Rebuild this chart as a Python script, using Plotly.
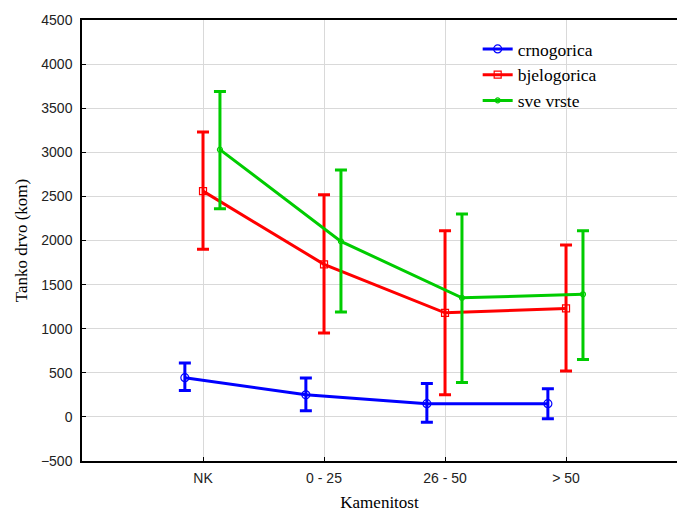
import plotly.graph_objects as go

categories = ["NK", "0 - 25", "26 - 50", "> 50"]

crno_mean = [445, 250, 150, 150]
crno_low = [300, 70, -60, -20]
crno_high = [610, 440, 380, 320]

bjelo_mean = [2560, 1730, 1180, 1230]
bjelo_low = [1900, 950, 250, 520]
bjelo_high = [3230, 2520, 2110, 1950]

sve_mean = [3030, 1990, 1350, 1390]
sve_low = [2360, 1190, 390, 650]
sve_high = [3690, 2800, 2300, 2110]

series = [
    ("crnogorica", crno_mean, crno_low, crno_high, "#0000ff", -0.15, "circle-open", 8),
    ("bjelogorica", bjelo_mean, bjelo_low, bjelo_high, "#ff0000", 0.0, "square-open", 7),
    ("sve vrste", sve_mean, sve_low, sve_high, "#00cc00", 0.14, "circle-open", 5),
]

fig = go.Figure()
for name, m, lo, hi, col, off, sym, ms in series:
    xs = [i + off for i in range(len(categories))]
    fig.add_trace(go.Scatter(
        x=xs, y=m, name=name, mode="lines+markers",
        line=dict(color=col, width=3),
        marker=dict(symbol=sym, size=ms, color=col, line=dict(width=1.2, color=col)),
        error_y=dict(type="data", symmetric=False,
                     array=[h - v for h, v in zip(hi, m)],
                     arrayminus=[v - l for v, l in zip(m, lo)],
                     color=col, thickness=3, width=6),
    ))

fig.update_layout(
    width=677, height=512,
    margin=dict(l=82, r=0, t=20, b=51, autoexpand=False),
    plot_bgcolor="white", paper_bgcolor="white",
    showlegend=True,
    legend=dict(x=0.665, y=0.975, xanchor="left", yanchor="top",
                bgcolor="rgba(0,0,0,0)", tracegroupgap=0,
                font=dict(family="Liberation Serif", size=17.5, color="#000"),
                itemwidth=30),
    xaxis=dict(
        range=[-1, 3.917], automargin=False,
        tickmode="array", tickvals=list(range(len(categories))), ticktext=categories,
        showgrid=True, gridcolor="#d9d9d9", gridwidth=1,
        showline=True, linecolor="#000", linewidth=1.5, mirror=True,
        ticks="inside", ticklen=4, tickcolor="#000",
        zeroline=False, ticklabelstandoff=3,
        tickfont=dict(family="Liberation Sans", size=14, color="#222"),
        title=dict(text="Kamenitost", standoff=18,
                   font=dict(family="Liberation Serif", size=17, color="#000")),
    ),
    yaxis=dict(
        range=[-500, 4500], dtick=500, tick0=0, automargin=False,
        showgrid=True, gridcolor="#d9d9d9", gridwidth=1,
        showline=True, linecolor="#000", linewidth=1.5,
        ticks="inside", ticklen=4, tickcolor="#000",
        zeroline=False, ticklabelstandoff=5,
        tickfont=dict(family="Liberation Sans", size=14, color="#222"),
        title=dict(text="Tanko drvo (kom)", standoff=9,
                   font=dict(family="Liberation Serif", size=17, color="#000")),
    ),
)

fig.write_html(
    "out.html",
    config={"displayModeBar": False},
    post_script="document.body.style.margin='0';document.body.style.overflow='hidden';",
)
